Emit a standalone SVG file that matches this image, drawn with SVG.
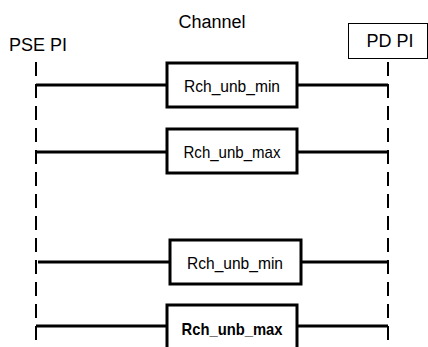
<svg xmlns="http://www.w3.org/2000/svg" width="428" height="347" viewBox="0 0 428 347">
<style>
text{font-family:"Liberation Sans",Arial,sans-serif;fill:#000}
.lbl{font-size:18px}
.r{font-size:17px;text-anchor:middle}
.b{font-weight:bold}
.box{fill:#fff;stroke:#000;stroke-width:3}
.wire{stroke:#000;stroke-width:3;fill:none}
.dash{stroke:#000;stroke-width:2;stroke-dasharray:14 8;fill:none}
</style>
<rect width="428" height="347" fill="#fff"/>
<text class="lbl" x="9" y="51">PSE PI</text>
<text class="lbl" x="212" y="28" text-anchor="middle">Channel</text>
<g id="pdpi">
<rect x="348.5" y="23.5" width="79" height="35" fill="#fff" stroke="#000" stroke-width="1"/>
<text class="lbl" x="390" y="47" text-anchor="middle">PD PI</text>
</g>
<g id="connectors">
<line class="dash" x1="36" y1="62" x2="36" y2="347"/>
<line class="dash" x1="388" y1="62" x2="388" y2="347"/>
<line class="wire" x1="36" y1="85" x2="167" y2="85"/>
<line class="wire" x1="297" y1="85" x2="388" y2="85"/>
<line class="wire" x1="36" y1="152" x2="167" y2="152"/>
<line class="wire" x1="297" y1="152" x2="388" y2="152"/>
<line class="wire" x1="38" y1="262" x2="170" y2="262"/>
<line class="wire" x1="301" y1="262" x2="388" y2="262"/>
<line class="wire" x1="36" y1="326" x2="167" y2="326"/>
<line class="wire" x1="297" y1="326" x2="388" y2="326"/>
</g>
<g id="r1">
<rect class="box" x="167" y="63" width="130" height="44"/>
<text class="r" x="232" y="92" textLength="96" lengthAdjust="spacingAndGlyphs">Rch_unb_min</text>
</g>
<g id="r2">
<rect class="box" x="167" y="129" width="130" height="44"/>
<text class="r" x="232" y="158" textLength="97" lengthAdjust="spacingAndGlyphs">Rch_unb_max</text>
</g>
<g id="r3">
<rect class="box" x="170" y="240" width="131" height="44"/>
<text class="r" x="235" y="269" textLength="96" lengthAdjust="spacingAndGlyphs">Rch_unb_min</text>
</g>
<g id="r4">
<rect class="box" x="167" y="305" width="130" height="50"/>
<text class="r b" x="232" y="335" textLength="101" lengthAdjust="spacingAndGlyphs">Rch_unb_max</text>
</g>
</svg>
